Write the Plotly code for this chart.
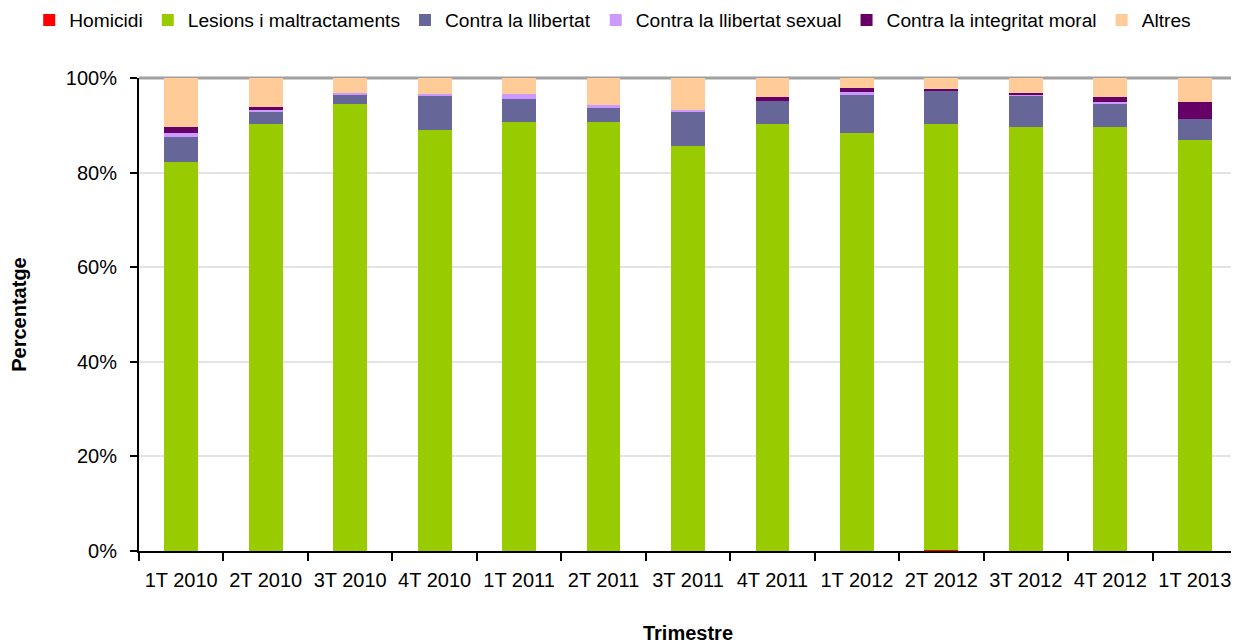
import plotly.graph_objects as go

categories = ["1T 2010", "2T 2010", "3T 2010", "4T 2010", "1T 2011", "2T 2011", "3T 2011",
              "4T 2011", "1T 2012", "2T 2012", "3T 2012", "4T 2012", "1T 2013"]

homicidi = [0, 0, 0, 0, 0, 0, 0, 0, 0, 0.3, 0, 0, 0]
lesions = [82.2, 90.3, 94.5, 89.0, 90.7, 90.7, 85.6, 90.3, 88.4, 90.0, 89.6, 89.6, 86.9]
llibertat = [5.3, 2.7, 2.1, 7.2, 4.9, 3.0, 7.4, 4.9, 8.2, 7.0, 6.6, 5.1, 4.4]
llibertat_sexual = [0.9, 0.2, 0.2, 0.4, 1.0, 0.6, 0.2, 0.0, 0.4, 0.0, 0.4, 0.2, 0.0]
integritat_moral = [1.2, 0.6, 0.0, 0.0, 0.0, 0.0, 0.0, 0.8, 0.9, 0.4, 0.2, 1.1, 3.6]
altres = [10.4, 6.2, 3.2, 3.4, 3.4, 5.7, 6.8, 4.0, 2.1, 2.3, 3.2, 4.0, 5.1]

series = [
    ("Homicidi", homicidi, "#FF0000"),
    ("Lesions i maltractaments", lesions, "#99CC00"),
    ("Contra la llibertat", llibertat, "#666699"),
    ("Contra la llibertat sexual", llibertat_sexual, "#CC99FF"),
    ("Contra la integritat moral", integritat_moral, "#660066"),
    ("Altres", altres, "#FFCC99"),
]

FONT = "Liberation Sans, Arial, sans-serif"

fig = go.Figure()
for name, vals, color in series:
    fig.add_trace(go.Bar(x=categories, y=vals, name=name,
                         marker=dict(color=color, line=dict(width=0))))

# the page body adds an 8px offset, so the figure is 8px smaller than the window
fig.update_layout(
    width=1231, height=636,
    barmode="stack", bargap=0.6,
    plot_bgcolor="white", paper_bgcolor="white",
    margin=dict(l=131, r=2, t=70, b=93, autoexpand=False),
    font=dict(family=FONT, size=20, color="black"),
    legend=dict(orientation="h", x=-0.1, xanchor="left", y=1.1226, yanchor="middle",
                traceorder="normal", font=dict(size=19.2), itemwidth=30,
                tracegroupgap=0, bgcolor="rgba(0,0,0,0)"),
    showlegend=True,
)

fig.update_xaxes(
    showline=True, linecolor="black", linewidth=2,
    ticks="outside", tickson="boundaries", ticklen=8, tickcolor="black", tickwidth=1.5,
    tickfont=dict(size=20), ticklabelstandoff=10, showgrid=False, automargin=False,
    title=dict(text="<b>Trimestre</b>", font=dict(size=20), standoff=38),
)
fig.update_yaxes(
    range=[0, 100], dtick=20, ticksuffix="%",
    showline=True, linecolor="black", linewidth=2,
    ticks="outside", ticklen=7, tickcolor="black", tickwidth=1.5,
    tickfont=dict(size=20), ticklabelstandoff=9, automargin=False,
    showgrid=True, gridcolor="#E3E3E3", gridwidth=1.5,
    zeroline=False,
    title=dict(text="<b>Percentatge</b>", font=dict(size=20), standoff=34),
)

# plot-area frame (top and right) in grey
fig.add_shape(type="line", xref="paper", yref="paper", x0=0, x1=1, y0=1, y1=1,
              line=dict(color="#A0A0A0", width=3), layer="below")
fig.add_shape(type="line", xref="paper", yref="paper", x0=1, x1=1, y0=0, y1=1,
              line=dict(color="#A0A0A0", width=2), layer="below")

fig.write_html("out.html")
